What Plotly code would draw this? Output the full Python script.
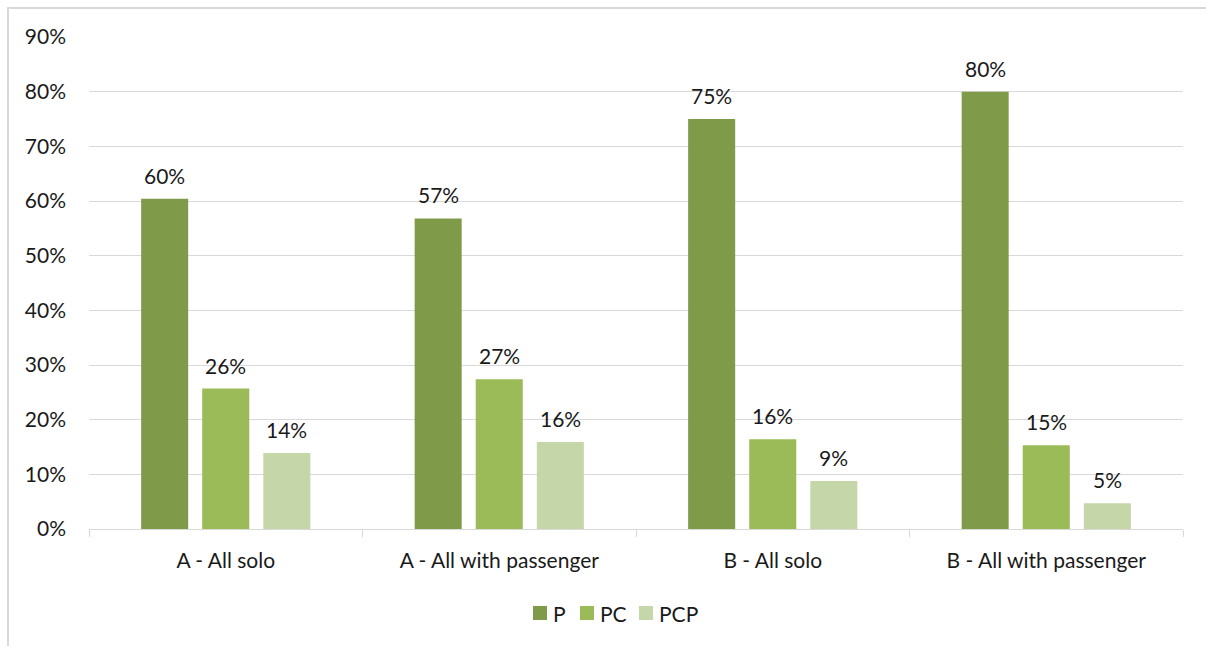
import plotly.graph_objects as go

# Categories and series values (shares, 0-1)
categories = ["A - All solo", "A - All with passenger", "B - All solo", "B - All with passenger"]
series_names = ["P", "PC", "PCP"]
p_values = [0.604, 0.568, 0.750, 0.800]
pc_values = [0.257, 0.274, 0.164, 0.153]
pcp_values = [0.139, 0.159, 0.088, 0.047]
series_colors = ["#7F9B49", "#9BBB59", "#C5D6A9"]

W, H = 1206, 646
M_L, M_R, M_T, M_B = 89, 23, 37, 117
BARGAP, GROUPGAP = 0.33, 0.23
FONT = "Lato, 'Open Sans', sans-serif"
FS = 21
TEXT = "#1a1a1a"
GRID = "#D9D9D9"

plot_w = W - M_L - M_R
plot_h = H - M_T - M_B


def px_x(px):
    return (px - M_L) / plot_w


def px_y(py):
    return (H - M_B - py) / plot_h


fig = go.Figure()
all_values = [p_values, pc_values, pcp_values]
for name, vals, col in zip(series_names, all_values, series_colors):
    fig.add_trace(go.Bar(name=name, x=categories, y=vals, showlegend=False,
                         marker=dict(color=col, line=dict(width=0))))

# value labels above each bar, shifted to the bar's slot within its group
cat_px = plot_w / len(categories)
slot_px = cat_px * (1 - BARGAP) / len(series_names)
for i, vals in enumerate(all_values):
    shift = (i - (len(series_names) - 1) / 2) * slot_px
    for c, v in zip(categories, vals):
        fig.add_annotation(x=c, y=v, text=f"{v:.0%}", showarrow=False, xref="x", yref="y",
                           yanchor="bottom", yshift=9, xshift=shift,
                           font=dict(family=FONT, size=FS, color=TEXT))

# compact legend: swatch + label per series
legend_x = [533, 580, 639]
legend_y = 613
sw = 14
for name, col, lx in zip(series_names, series_colors, legend_x):
    fig.add_shape(type="rect", xref="paper", yref="paper",
                  x0=px_x(lx), x1=px_x(lx + sw), y0=px_y(legend_y + sw / 2), y1=px_y(legend_y - sw / 2),
                  fillcolor=col, line=dict(width=0))
    fig.add_annotation(x=px_x(lx + sw + 4), y=px_y(legend_y), xref="paper", yref="paper",
                       text=name, showarrow=False, xanchor="left", yanchor="middle",
                       font=dict(family=FONT, size=FS, color=TEXT))

# light frame around the chart area
fig.add_shape(type="rect", xref="paper", yref="paper",
              x0=px_x(8), x1=px_x(W + 10), y0=px_y(H + 10), y1=px_y(8),
              line=dict(color=GRID, width=2), fillcolor="rgba(0,0,0,0)", layer="below")

fig.update_layout(
    width=W, height=H,
    margin=dict(l=M_L, r=M_R, t=M_T, b=M_B),
    paper_bgcolor="white", plot_bgcolor="white",
    barmode="group", bargap=BARGAP, bargroupgap=GROUPGAP,
    font=dict(family=FONT, size=FS, color=TEXT),
    showlegend=False,
    xaxis=dict(type="category", showgrid=False, showline=True, linecolor=GRID, linewidth=1,
               ticks="outside", tickson="boundaries", ticklen=7, tickcolor=GRID,
               tickfont=dict(family=FONT, size=FS, color=TEXT), ticklabelstandoff=13),
    yaxis=dict(range=[0, 0.9], dtick=0.1, tickformat=".0%", showgrid=True, gridcolor=GRID,
               gridwidth=1, zeroline=False, showline=False, ticks="",
               tickfont=dict(family=FONT, size=FS, color=TEXT), ticklabelstandoff=22),
)

fig.write_html("out.html")
